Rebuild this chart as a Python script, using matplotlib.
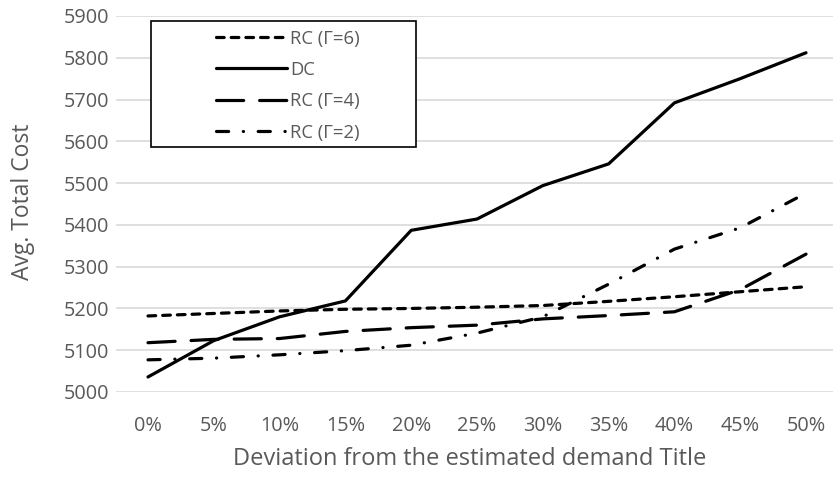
import matplotlib
matplotlib.use("Agg")
import matplotlib.pyplot as plt
from matplotlib.patches import Rectangle

# --- Data ---
deviation = ["0%", "5%", "10%", "15%", "20%", "25%", "30%", "35%", "40%", "45%", "50%"]
rc6 = [5182, 5188, 5194, 5198, 5200, 5203, 5207, 5217, 5228, 5240, 5252]
dc  = [5036, 5123, 5180, 5218, 5387, 5414, 5494, 5546, 5692, 5750, 5812]
rc4 = [5118, 5126, 5128, 5145, 5154, 5160, 5175, 5183, 5192, 5245, 5330]
rc2 = [5077, 5081, 5089, 5099, 5112, 5141, 5180, 5258, 5342, 5393, 5476]
y_ticks = [5000, 5100, 5200, 5300, 5400, 5500, 5600, 5700, 5800, 5900]

plt.rcParams["font.family"] = ["Open Sans", "DejaVu Sans"]
TEXT = "#595959"
W, H = 833, 478

fig = plt.figure(figsize=(W / 100, H / 100), dpi=100)
# plot area in pixels: left 116, top 16 (5900), bottom 392 (5000)
ax = fig.add_axes([116 / W, 1 - 392 / H, (W - 116) / W, (392 - 16) / H])

x = list(range(len(deviation)))
lw = 2.3
ax.plot(x, rc6, color="black", lw=lw, linestyle=(0, (2.4, 2.2)),
        dash_capstyle="round", label="RC (Γ=6)")
ax.plot(x, dc, color="black", lw=lw, solid_capstyle="round", label="DC")
ax.plot(x, rc4, color="black", lw=lw, linestyle=(0, (8.5, 5.0)),
        dash_capstyle="round", label="RC (Γ=4)")
ax.plot(x, rc2, color="black", lw=lw, linestyle=(0, (3.8, 4.6, 0.05, 4.6)),
        dash_capstyle="round", label="RC (Γ=2)")

# x positions: 0% at px 148, 50% at px 806
step = (806 - 148) / 10
ax.set_xlim(-(148 - 116) / step, (W - 148) / step)
ax.set_ylim(5000, 5900)
ax.set_yticks(y_ticks)
ax.set_xticks(x)
ax.set_xticklabels(deviation)
ax.yaxis.grid(True, color="#D9D9D9", lw=1.2)
ax.set_axisbelow(True)
for s in ax.spines.values():
    s.set_visible(False)
ax.tick_params(axis="both", length=0, labelsize=14.3, colors=TEXT)
ax.tick_params(axis="x", pad=17.5)
ax.tick_params(axis="y", pad=5)

fig.text(470 / W, 1 - 459 / H, "Deviation from the estimated demand Title",
         ha="center", va="center", fontsize=17, color=TEXT)
fig.text(23 / W, 1 - 202 / H, "Avg. Total Cost", ha="center", va="center",
         rotation=90, fontsize=16.5, color=TEXT)

# legend with a plain black box
ax.add_patch(Rectangle((151 / W, 1 - 147 / H), (416 - 151) / W, (147 - 21) / H,
                       transform=fig.transFigure, clip_on=False, facecolor="white",
                       edgecolor="black", lw=1.2, zorder=4))
leg = ax.legend(loc="upper left", bbox_to_anchor=(199 / W, 1 - 13 / H),
                bbox_transform=fig.transFigure, frameon=False,
                fontsize=13.3, labelcolor=TEXT, handlelength=3.85,
                handletextpad=0.2, labelspacing=0.72)
leg.set_zorder(5)

fig.savefig("out.png", dpi=100)
